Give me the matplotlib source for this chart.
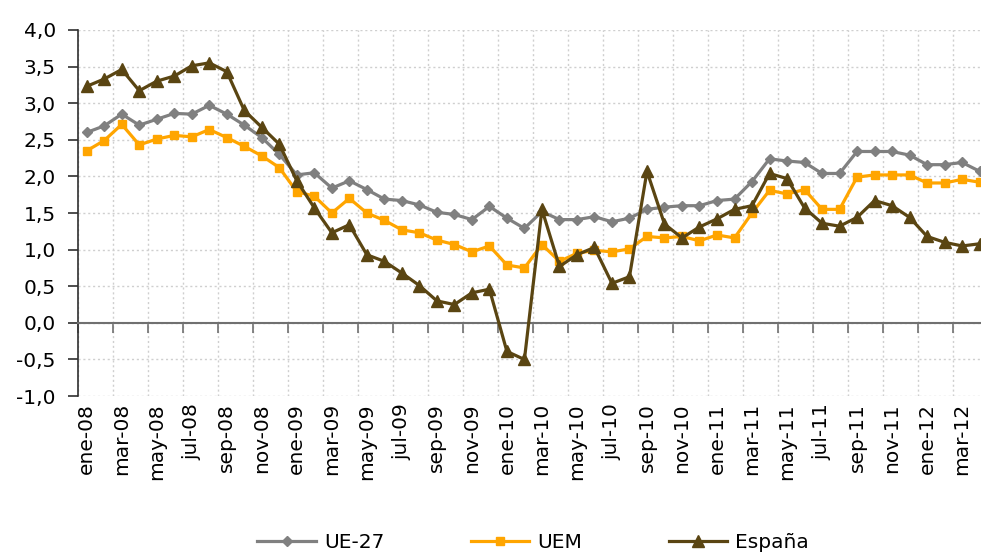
import numpy as np
import matplotlib
matplotlib.use("Agg")
import matplotlib.pyplot as plt

# month labels, ene-08 .. abr-12
meses = ["ene", "feb", "mar", "abr", "may", "jun", "jul", "ago", "sep", "oct", "nov", "dic"]
labels = [f"{m}-{y:02d}" for y in range(8, 13) for m in meses][:52]

ue27 = [2.60, 2.69, 2.85, 2.70, 2.78, 2.86, 2.85, 2.97, 2.85, 2.70, 2.53, 2.30,
        2.02, 2.05, 1.84, 1.94, 1.82, 1.69, 1.67, 1.61, 1.51, 1.48, 1.41, 1.59,
        1.43, 1.29, 1.52, 1.41, 1.41, 1.45, 1.38, 1.43, 1.55, 1.58, 1.60, 1.60,
        1.67, 1.69, 1.93, 2.24, 2.21, 2.19, 2.04, 2.04, 2.34, 2.34, 2.34, 2.29,
        2.16, 2.16, 2.19, 2.07]
uem = [2.35, 2.49, 2.71, 2.43, 2.51, 2.56, 2.54, 2.64, 2.53, 2.41, 2.28, 2.12,
       1.79, 1.73, 1.50, 1.70, 1.50, 1.40, 1.27, 1.23, 1.13, 1.07, 0.97, 1.05,
       0.79, 0.75, 1.07, 0.84, 0.95, 0.99, 0.97, 1.01, 1.18, 1.16, 1.18, 1.12,
       1.20, 1.16, 1.50, 1.81, 1.76, 1.82, 1.55, 1.55, 1.99, 2.02, 2.02, 2.02,
       1.91, 1.91, 1.96, 1.92]
espana = [3.23, 3.33, 3.46, 3.17, 3.30, 3.37, 3.51, 3.55, 3.43, 2.90, 2.67, 2.44,
          1.94, 1.57, 1.23, 1.34, 0.93, 0.84, 0.68, 0.51, 0.30, 0.25, 0.41, 0.46,
          -0.39, -0.50, 1.55, 0.77, 0.93, 1.03, 0.54, 0.63, 2.07, 1.35, 1.16, 1.31,
          1.42, 1.55, 1.60, 2.04, 1.97, 1.57, 1.36, 1.32, 1.44, 1.67, 1.60, 1.44,
          1.18, 1.10, 1.05, 1.08]

yticks = np.arange(-1.0, 4.01, 0.5)

plt.rcParams['font.family'] = ['DejaVu Sans']
fig = plt.figure(figsize=(9.81, 5.54), dpi=100)
ax = fig.add_axes([0.0795, 0.285, 0.928, 0.661])

x = np.arange(len(labels))
ax.plot(x, ue27, color='#808080', lw=2.3, marker='D', ms=5.5, mec='#808080', label='UE-27', zorder=3)
ax.plot(x, uem, color='#FFA500', lw=2.3, marker='s', ms=6, mec='#FFA500', label='UEM', zorder=4)
ax.plot(x, espana, color='#5A4512', lw=2.3, marker='^', ms=8, mec='#5A4512', label='España', zorder=5)

ax.set_xlim(-0.5, len(labels) - 0.5)
ax.set_ylim(-1.0, 4.0)
ax.set_yticks(yticks)
ax.set_yticklabels([f"{v:.1f}".replace('.', ',') for v in yticks], fontsize=14.5)

# tick marks on the zero line at every second category boundary
ax.set_xticks(np.arange(-0.5, len(labels), 2))
ax.tick_params(axis='x', direction='out', length=7, width=1.2, color='#707070', labelbottom=False)
ax.tick_params(axis='y', direction='out', length=7, width=1.2, color='#303030', pad=9)
ax.spines['bottom'].set_position(('data', 0))
ax.spines['bottom'].set_color('#707070')
ax.spines['bottom'].set_linewidth(1.5)
ax.spines['left'].set_color('#303030')
ax.spines['left'].set_linewidth(1.2)
ax.spines['top'].set_visible(False)
ax.spines['right'].set_visible(False)
ax.grid(True, color='#CFCFCF', linestyle=(0, (1.5, 2)), linewidth=1)
ax.set_axisbelow(True)

# month labels below the plot area
sec = ax.secondary_xaxis(0.0)
sec.set_xticks(x[::2])
sec.set_xticklabels(labels[::2], rotation=90, fontsize=14.5)
sec.tick_params(length=0, pad=5)
sec.spines['bottom'].set_visible(False)

ax.legend(loc='center', bbox_to_anchor=(0.5, -0.40), ncol=3, frameon=False,
          fontsize=14.5, handlelength=2.9, handletextpad=0.4, columnspacing=4.3)

plt.savefig("out.png", dpi=100)
plt.close()
